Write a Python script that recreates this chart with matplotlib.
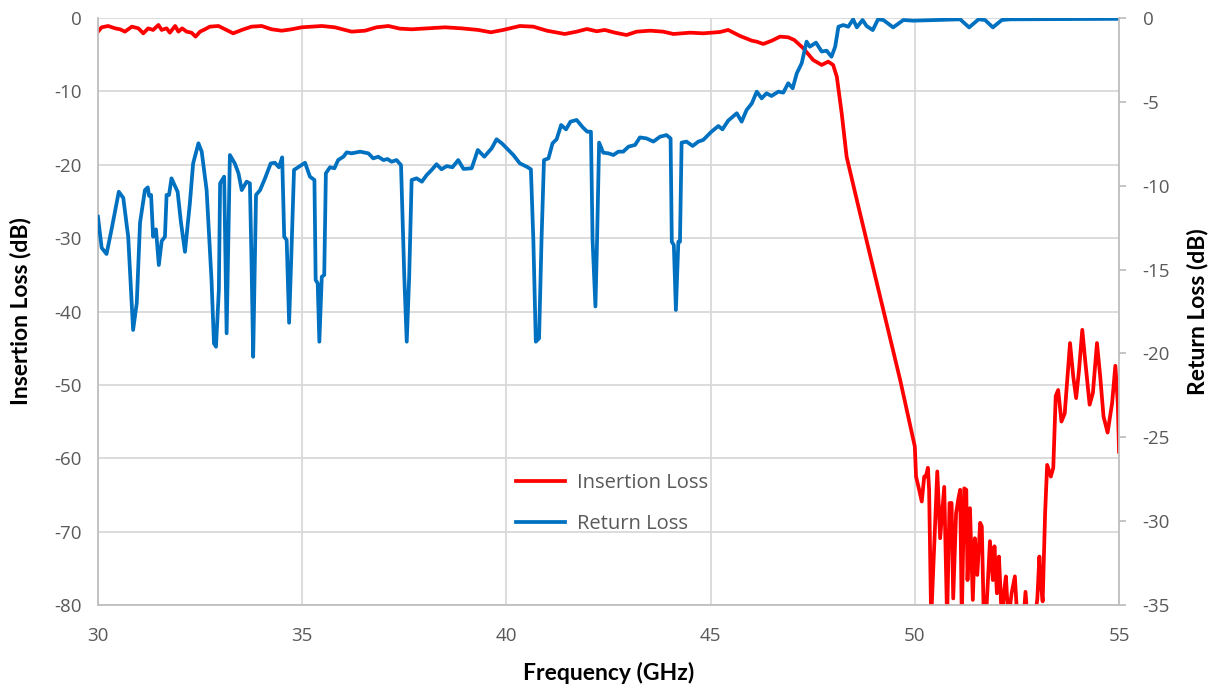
import matplotlib
matplotlib.use("Agg")
import matplotlib.pyplot as plt
import numpy as np

# insertion loss (left axis, dB)
il_freq = [30.0, 30.09, 30.25, 30.42, 30.54, 30.66, 30.83, 30.99, 31.11, 31.23, 31.35, 31.48,
           31.56, 31.68, 31.76, 31.89, 31.97, 32.06, 32.17, 32.29, 32.39, 32.5, 32.62, 32.74,
           32.95, 33.11, 33.31, 33.52, 33.76, 34.01, 34.25, 34.5, 34.74, 34.99, 35.48, 35.8,
           36.21, 36.54, 36.82, 37.11, 37.39, 37.68, 38.09, 38.5, 38.9, 39.31, 39.62, 39.92,
           40.33, 40.66, 40.99, 41.43, 41.72, 41.97, 42.21, 42.41, 42.66, 42.94, 43.19, 43.52,
           43.84, 44.09, 44.5, 44.82, 45.23, 45.43, 45.72, 46.01, 46.13, 46.29, 46.5, 46.7,
           46.9, 47.05, 47.27, 47.51, 47.72, 47.88, 48.0, 48.09, 48.21, 48.33, 48.58, 49.64,
           50.0, 50.03, 50.09, 50.17, 50.23, 50.27, 50.32, 50.35, 50.4, 50.47, 50.55, 50.62,
           50.72, 50.79, 50.85, 50.9, 50.94, 51.01, 51.07, 51.11, 51.15, 51.21, 51.26, 51.29,
           51.35, 51.42, 51.47, 51.53, 51.6, 51.64, 51.69, 51.74, 51.84, 51.91, 51.95, 52.01,
           52.06, 52.13, 52.18, 52.23, 52.29, 52.37, 52.45, 52.51, 52.66, 52.71, 52.76, 52.94,
           53.0, 53.05, 53.08, 53.13, 53.19, 53.24, 53.33, 53.39, 53.45, 53.51, 53.59, 53.67,
           53.8, 53.88, 53.95, 54.02, 54.1, 54.17, 54.28, 54.36, 54.46, 54.54, 54.62, 54.72,
           54.83, 54.91, 54.97, 55.0]
il_db = [-1.86, -1.27, -1.09, -1.41, -1.54, -1.86, -1.18, -1.41, -2.09, -1.41, -1.63, -0.95,
         -1.63, -1.41, -2.0, -1.09, -1.86, -1.41, -1.86, -2.0, -2.54, -1.86, -1.54, -1.18,
         -1.09, -1.54, -2.09, -1.63, -1.18, -1.09, -1.54, -1.73, -1.54, -1.27, -1.09, -1.27,
         -1.86, -1.73, -1.27, -1.09, -1.45, -1.54, -1.41, -1.27, -1.41, -1.63, -1.95, -1.63,
         -1.09, -1.18, -1.73, -2.18, -1.86, -1.5, -1.81, -1.63, -2.0, -2.32, -1.86, -1.73,
         -1.86, -2.18, -2.0, -2.09, -1.91, -1.63, -2.45, -3.09, -3.23, -3.54, -3.09, -2.54,
         -2.63, -3.0, -4.13, -5.72, -6.4, -5.95, -6.4, -8.0, -13.0, -18.9, -24.8, -49.3,
         -58.4, -62.5, -63.9, -65.9, -62.5, -62.5, -61.3, -64.3, -82.0, -72.5, -61.8, -70.9,
         -63.9, -82.0, -66.1, -66.1, -79.1, -67.5, -65.4, -64.3, -82.0, -64.1, -64.3, -76.6,
         -66.8, -79.3, -70.9, -75.9, -68.8, -69.3, -82.0, -82.0, -71.3, -76.6, -72.0, -78.4,
         -73.4, -82.0, -78.4, -76.1, -82.0, -78.4, -76.1, -82.0, -82.0, -78.2, -82.0, -82.0,
         -79.1, -73.4, -76.6, -79.5, -67.5, -60.9, -62.5, -61.3, -51.5, -50.7, -55.0, -53.9,
         -44.3, -48.9, -51.8, -48.0, -42.5, -46.6, -52.7, -51.1, -44.3, -48.9, -54.3, -56.5,
         -52.5, -47.4, -52.5, -59.1]

# return loss (right axis, dB)
rl_freq = [30.0, 30.09, 30.21, 30.33, 30.51, 30.62, 30.74, 30.86, 30.95, 31.03, 31.15, 31.22,
           31.25, 31.3, 31.35, 31.42, 31.49, 31.56, 31.64, 31.68, 31.74, 31.8, 31.95, 32.03,
           32.13, 32.25, 32.33, 32.46, 32.54, 32.66, 32.78, 32.84, 32.89, 32.96, 32.99, 33.09,
           33.15, 33.23, 33.35, 33.44, 33.52, 33.64, 33.72, 33.76, 33.8, 33.87, 33.97, 34.09,
           34.23, 34.33, 34.43, 34.51, 34.56, 34.62, 34.68, 34.74, 34.8, 34.9, 35.07, 35.19,
           35.3, 35.33, 35.38, 35.42, 35.48, 35.54, 35.58, 35.68, 35.79, 35.88, 36.01, 36.09,
           36.21, 36.42, 36.62, 36.74, 36.86, 36.99, 37.09, 37.19, 37.31, 37.42, 37.5, 37.56,
           37.62, 37.68, 37.8, 37.93, 38.05, 38.17, 38.29, 38.41, 38.54, 38.68, 38.82, 38.95,
           39.15, 39.3, 39.46, 39.64, 39.76, 39.9, 40.01, 40.17, 40.33, 40.5, 40.6, 40.66,
           40.72, 40.8, 40.86, 40.92, 41.03, 41.13, 41.23, 41.34, 41.46, 41.57, 41.72, 41.87,
           41.98, 42.07, 42.11, 42.18, 42.22, 42.27, 42.37, 42.5, 42.62, 42.74, 42.86, 42.99,
           43.15, 43.27, 43.43, 43.6, 43.76, 43.92, 44.02, 44.05, 44.1, 44.15, 44.21, 44.25,
           44.29, 44.41, 44.56, 44.7, 44.82, 45.02, 45.19, 45.29, 45.43, 45.64, 45.76, 45.88,
           46.01, 46.13, 46.25, 46.37, 46.49, 46.66, 46.78, 46.9, 47.01, 47.11, 47.23, 47.35,
           47.43, 47.58, 47.72, 47.84, 47.96, 48.05, 48.13, 48.25, 48.37, 48.49, 48.58, 48.72,
           48.82, 48.97, 49.1, 49.23, 49.47, 49.72, 49.96, 51.11, 51.33, 51.56, 51.72, 51.91,
           52.13, 52.33, 55.0]
rl_db = [-11.85, -13.7, -14.07, -12.64, -10.36, -10.73, -13.04, -18.6, -17.0, -12.2, -10.26, -10.1,
         -10.6, -10.55, -13.04, -12.6, -14.73, -13.3, -13.04, -10.55, -10.55, -9.56, -10.36, -12.15,
         -13.94, -11.05, -8.67, -7.47, -7.97, -10.26, -15.62, -19.4, -19.6, -16.2, -9.86, -9.46,
         -18.8, -8.17, -8.67, -9.26, -10.26, -9.76, -9.86, -14.6, -20.2, -10.55, -10.26, -9.56,
         -8.67, -8.63, -8.9, -8.31, -13.04, -13.24, -18.17, -13.73, -9.06, -8.9, -8.63, -9.46,
         -9.66, -15.62, -15.82, -19.3, -15.43, -15.32, -9.26, -8.9, -8.96, -8.47, -8.27, -8.01,
         -8.07, -7.97, -8.07, -8.37, -8.27, -8.47, -8.41, -8.57, -8.47, -8.77, -15.43, -19.3,
         -15.43, -9.66, -9.56, -9.76, -9.36, -9.06, -8.72, -9.02, -8.83, -8.9, -8.47, -9.0,
         -8.96, -7.87, -8.27, -7.77, -7.23, -7.5, -7.77, -8.17, -8.67, -8.87, -9.02, -13.24,
         -19.3, -19.1, -13.24, -8.47, -8.37, -7.47, -7.23, -6.38, -6.64, -6.18, -6.08, -6.52,
         -6.78, -6.78, -13.24, -17.2, -13.24, -7.43, -8.03, -8.07, -8.17, -7.97, -7.97, -7.67,
         -7.57, -7.12, -7.18, -7.37, -7.08, -6.98, -7.18, -13.34, -13.54, -17.41, -13.34, -13.34,
         -7.43, -7.37, -7.63, -7.37, -7.27, -6.78, -6.44, -6.64, -6.12, -5.68, -6.18, -5.49,
         -5.09, -4.39, -4.79, -4.49, -4.65, -4.39, -4.45, -3.89, -4.19, -3.3, -2.7, -1.41,
         -1.71, -1.47, -2.0, -1.95, -2.31, -1.71, -0.52, -0.42, -0.52, -0.08, -0.56, -0.12,
         -0.48, -0.72, -0.08, -0.12, -0.56, -0.12, -0.16, -0.08, -0.56, -0.08, -0.12, -0.56,
         -0.12, -0.08, -0.05]

x_ticks = [30, 35, 40, 45, 50, 55]
il_ticks = [0, -10, -20, -30, -40, -50, -60, -70, -80]
rl_ticks = [0, -5, -10, -15, -20, -25, -30, -35]

red = "#FF0000"
blue = "#0070C0"
grid_c = "#D9D9D9"
axis_c = "#BFBFBF"
text_c = "#595959"

plt.rcParams["font.family"] = ["Open Sans", "DejaVu Sans"]
plt.rcParams["axes.unicode_minus"] = False

fig = plt.figure(figsize=(12.17, 6.92), dpi=100)
ax = fig.add_axes([0.0805, 0.1257, 0.839, 0.8483])
ax2 = ax.twinx()

ax.plot(il_freq, il_db, color=red, lw=2.7, label="Insertion Loss")
ax2.plot(rl_freq, rl_db, color=blue, lw=2.7, label="Return Loss")

ax.set_xlim(30, 55)
ax.set_ylim(-80, 0)
ax2.set_ylim(-35, 0)
ax.set_xticks(x_ticks)
ax.set_yticks(il_ticks)
ax2.set_yticks(rl_ticks)

ax.grid(True, color=grid_c, lw=1.3)
ax.set_axisbelow(True)

for a in (ax, ax2):
    for s in a.spines.values():
        s.set_color(axis_c)
        s.set_linewidth(1.3)
    a.spines["top"].set_visible(False)
ax.spines["right"].set_visible(False)
ax2.spines["left"].set_visible(False)
ax2.spines["bottom"].set_visible(False)

ax.tick_params(axis="both", length=0, labelsize=13.5, labelcolor=text_c, pad=12)
ax.tick_params(axis="x", pad=16)
ax2.tick_params(axis="y", length=5, width=1.3, color=axis_c, labelsize=13.5,
                labelcolor=text_c, pad=12)

lab_font = dict(family=["Lato", "DejaVu Sans"], fontweight="bold", fontsize=16.5, color="black")
ax.set_xlabel("Frequency (GHz)", labelpad=12, **lab_font)
ax.set_ylabel("Insertion Loss (dB)", labelpad=16, **lab_font)
ax2.set_ylabel("Return Loss (dB)", labelpad=12, **lab_font)

h1, l1 = ax.get_legend_handles_labels()
h2, l2 = ax2.get_legend_handles_labels()
leg = ax2.legend(h1 + h2, l1 + l2, loc="upper left", bbox_to_anchor=(0.392, 0.255),
                 frameon=False, fontsize=14.5, handlelength=2.4, labelspacing=1.0,
                 handletextpad=0.6)
for t in leg.get_texts():
    t.set_color(text_c)

fig.savefig("out.png", dpi=100)
